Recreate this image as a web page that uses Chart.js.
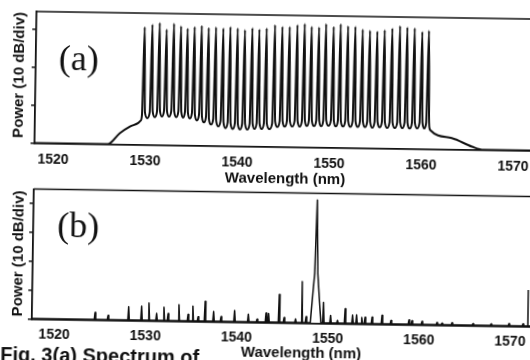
<!DOCTYPE html>
<html>
<head>
<meta charset="utf-8">
<script src="https://cdn.jsdelivr.net/npm/chart.js@4.4.1/dist/chart.umd.min.js"></script>
<style>
  html, body { margin: 0; padding: 0; background: #fff; }
  body { width: 530px; height: 360px; overflow: hidden; position: relative; }
  /* the scanned figure is tilted a little, so the whole page is turned to match */
  #page { position: absolute; left: 0; top: 0; width: 540px; height: 370px;
          transform: rotate(0.87deg); transform-origin: 265px 180px; }
  canvas { position: absolute; left: 0; }
  #chartA { top: 0; }
  #chartB { top: 186px; }
</style>
</head>
<body>
<div id="page">
  <canvas id="chartA" width="540" height="190"></canvas>
  <canvas id="chartB" width="540" height="184"></canvas>
</div>
<script>
// ---- panel (a): multiwavelength comb ----
var combWl = [1529.75, 1530.59, 1531.38, 1532.14, 1532.93, 1533.70, 1534.42, 1535.18, 1535.95, 1536.71,
              1537.50, 1538.30, 1539.07, 1539.86, 1540.65, 1541.46, 1542.22, 1543.01, 1543.91, 1544.72,
              1545.51, 1546.35, 1547.14, 1547.90, 1548.70, 1549.46, 1550.29, 1551.05, 1551.85, 1552.65,
              1553.45, 1554.24, 1555.04, 1555.84, 1556.67, 1557.50, 1558.30, 1559.10, 1559.93, 1560.65];
var combPeak = [-39.1, -38.35, -37.9, -39.6, -38.0, -38.7, -39.3, -38.8, -38.5, -39.0,
                -38.8, -39.1, -38.7, -39.0, -39.4, -38.9, -39.2, -38.9, -38.0, -38.4,
                -38.4, -37.9, -37.6, -38.3, -38.4, -37.5, -38.2, -37.5, -38.0, -38.1,
                -38.8, -39.1, -39.3, -38.9, -38.4, -37.8, -38.1, -38.3, -39.2, -38.9];
// floor before the first line, between each pair of lines, after the last line
var combValley = [-63.7, -63.0, -62.7, -62.5, -62.5, -62.6, -62.7, -62.9, -63.4, -63.9,
                  -64.4, -64.9, -65.3, -65.5, -65.6, -65.6, -65.4, -65.4, -65.4, -64.8,
                  -64.7, -64.6, -64.6, -64.4, -64.4, -64.4, -64.3, -64.4, -64.4, -64.5,
                  -64.5, -64.5, -64.6, -64.5, -64.6, -64.6, -64.6, -64.7, -64.6, -64.6, -64.6];
var aseLeftWl = [1517, 1525.9, 1527.2, 1528.3, 1529.2];
var aseLeftPow = [-70, -70, -67.1, -65.3, -64.3];
var aseRightWl = [1560.93, 1563.3, 1565.5, 1566.75, 1574];
var aseRightPow = [-65.0, -67.05, -69.2, -70, -70];

// ---- panel (b): single line with residual spurs ----
var bFloor = -69.8;
var mainWl = [1548.07, 1548.48, 1548.65, 1548.82, 1549.23];
var mainPow = [-69.8, -52.7, -27.5, -52.7, -69.8];
var spurWl = [1524.46, 1525.89, 1528.14, 1529.56, 1530.36, 1531.21, 1532.01, 1532.47, 1533.65, 1534.66,
              1535.18, 1535.76, 1536.52, 1537.46, 1538.28, 1539.76, 1541.27, 1542.23, 1543.21, 1543.49,
              1544.64, 1545.19, 1546.45, 1547.13, 1547.60, 1549.50, 1550.29, 1551.05, 1551.88, 1552.70,
              1553.14, 1553.71, 1554.07, 1554.84, 1555.93, 1556.92, 1558.89, 1559.22, 1560.32, 1561.96,
              1562.51, 1563.61, 1565.91, 1567.89, 1569.86, 1571.40];
var spurPow = [-67.4, -68.4, -65.3, -65.0, -63.9, -67.4, -65.3, -67.4, -64.3, -67.6,
               -64.7, -68.4, -63.0, -66.5, -68.2, -66.0, -67.2, -68.9, -66.7, -66.9,
               -60.3, -68.2, -68.6, -55.7, -67.8, -62.8, -67.2, -68.9, -64.8, -67.0,
               -66.9, -67.8, -67.7, -67.6, -66.9, -68.6, -68.4, -68.6, -68.8, -69.1,
               -69.3, -69.1, -69.3, -69.3, -69.1, -69.1];

var tickLabels = [1520, 1530, 1540, 1550, 1560, 1570];

var INK = '#111';
var SANS = '"Liberation Sans", Arial, Helvetica, sans-serif';

// build the traced spectrum of (a)
var specA = [];
for (var i = 0; i < aseLeftWl.length; i++) specA.push({ x: aseLeftWl[i], y: aseLeftPow[i] });
for (var i = 0; i < combWl.length; i++) {
    var c = combWl[i], lo = combValley[i], hi = combValley[i + 1];
    if (i == 0) specA.push({ x: c - 0.3, y: lo });
    specA.push({ x: c - 0.16, y: lo + 1.5 });
    specA.push({ x: c, y: combPeak[i] });
    specA.push({ x: c + 0.16, y: hi + 1.5 });
    var next = combWl[i + 1];
    specA.push({ x: next ? (c + next) / 2 : c + 0.22, y: hi });
}
for (var i = 0; i < aseRightWl.length; i++) specA.push({ x: aseRightWl[i], y: aseRightPow[i] });

// build the traced spectrum of (b)
var specB = [{ x: 1517, y: bFloor }, { x: 1574, y: bFloor }];
for (var i = 0; i < spurWl.length; i++) {
    specB.push({ x: spurWl[i] - 0.08, y: bFloor });
    specB.push({ x: spurWl[i], y: spurPow[i] });
    specB.push({ x: spurWl[i] + 0.08, y: bFloor });
}
for (var i = 0; i < mainWl.length; i++) specB.push({ x: mainWl[i], y: mainPow[i] });
specB.sort(function (a, b) { return a.x - b.x; });

function overlay(items) {
    return {
        id: 'overlay',
        afterDraw: function (chart) {
            var ctx = chart.ctx, a = chart.chartArea;
            ctx.save();
            ctx.strokeStyle = INK;
            ctx.lineWidth = 1.5;
            ctx.beginPath();
            ctx.moveTo(a.left, a.top);
            ctx.lineTo(a.right, a.top);
            ctx.stroke();
            ctx.fillStyle = INK;
            items.forEach(function (t) {
                if (t.line) {
                    ctx.beginPath();
                    ctx.moveTo(t.line[0], t.line[1]);
                    ctx.lineTo(t.line[2], t.line[3]);
                    ctx.stroke();
                    return;
                }
                ctx.save();
                ctx.translate(t.x, t.y);
                if (t.rot) ctx.rotate(t.rot);
                ctx.font = t.font;
                ctx.textAlign = t.align || 'center';
                ctx.textBaseline = t.base || 'alphabetic';
                ctx.fillText(t.text, 0, 0);
                ctx.restore();
            });
            ctx.restore();
        }
    };
}

function makeOptions(xMin, xMax, yMin, yMax, pad, labelPad) {
    return {
        responsive: false,
        animation: false,
        devicePixelRatio: 1,
        layout: { padding: pad },
        plugins: { legend: { display: false }, tooltip: { enabled: false } },
        elements: { point: { radius: 0 } },
        scales: {
            x: {
                type: 'linear', min: xMin, max: xMax,
                afterFit: function (s) { s.height = 30; },
                afterBuildTicks: function (s) { s.ticks = tickLabels.map(function (v) { return { value: v }; }); },
                grid: { display: false, drawTicks: false },
                border: { display: true, color: INK, width: 1.8 },
                ticks: {
                    maxRotation: 0, autoSkip: false, padding: labelPad, color: INK,
                    font: { family: SANS, size: 14, weight: 'bold' },
                    callback: function (v) { return String(v); }
                }
            },
            y: {
                type: 'linear', min: yMin, max: yMax,
                afterFit: function (s) { s.width = 4; },
                grid: { display: true, drawOnChartArea: false, drawTicks: true, tickLength: 4, color: INK, lineWidth: 1.5 },
                border: { display: true, color: INK, width: 1.8 },
                ticks: { display: false, stepSize: 10, includeBounds: false }
            }
        }
    };
}

new Chart(document.getElementById('chartA'), {
    type: 'line',
    data: {
        datasets: [{
            data: specA, borderColor: INK, borderWidth: 2, fill: false,
            cubicInterpolationMode: 'monotone', borderJoinStyle: 'round'
        }]
    },
    options: makeOptions(1517.96, 1572.96, -70, -35.4, { left: 30, top: 15, right: 0, bottom: 13.5 }, 8),
    plugins: [overlay([
        { text: '(a)', x: 77, y: 72.9, font: '36px "Liberation Serif", "Times New Roman", serif' },
        { text: 'Power (10 dB/div)', x: 18, y: 78.7, rot: -Math.PI / 2, base: 'middle', font: 'bold 15px ' + SANS },
        { text: 'Wavelength (nm)', x: 285, y: 182.7, font: 'bold 15px ' + SANS }
    ])]
});

new Chart(document.getElementById('chartB'), {
    type: 'line',
    data: {
        datasets: [{
            data: specB, borderColor: INK, borderWidth: 1.5, fill: false,
            tension: 0, borderJoinStyle: 'round'
        }]
    },
    options: makeOptions(1517.54, 1573.03, -70, -25.17, { left: 30, top: 6.5, right: 0, bottom: 17.5 }, 7),
    plugins: [overlay([
        { text: '(b)', x: 79, y: 53.5, font: '36px "Liberation Serif", "Times New Roman", serif' },
        { text: 'Power (10 dB/div)', x: 20.3, y: 71.2, rot: -Math.PI / 2, base: 'middle', font: 'bold 15px ' + SANS },
        { text: 'Wavelength (nm)', x: 303.7, y: 170.5, font: 'bold 15px ' + SANS },
        { text: 'Fig. 3(a) Spectrum of', x: 3, y: 179, align: 'left', font: 'bold 20px ' + SANS },
        { line: [530, 100, 530, 136.5] }
    ])]
});
</script>
</body>
</html>
